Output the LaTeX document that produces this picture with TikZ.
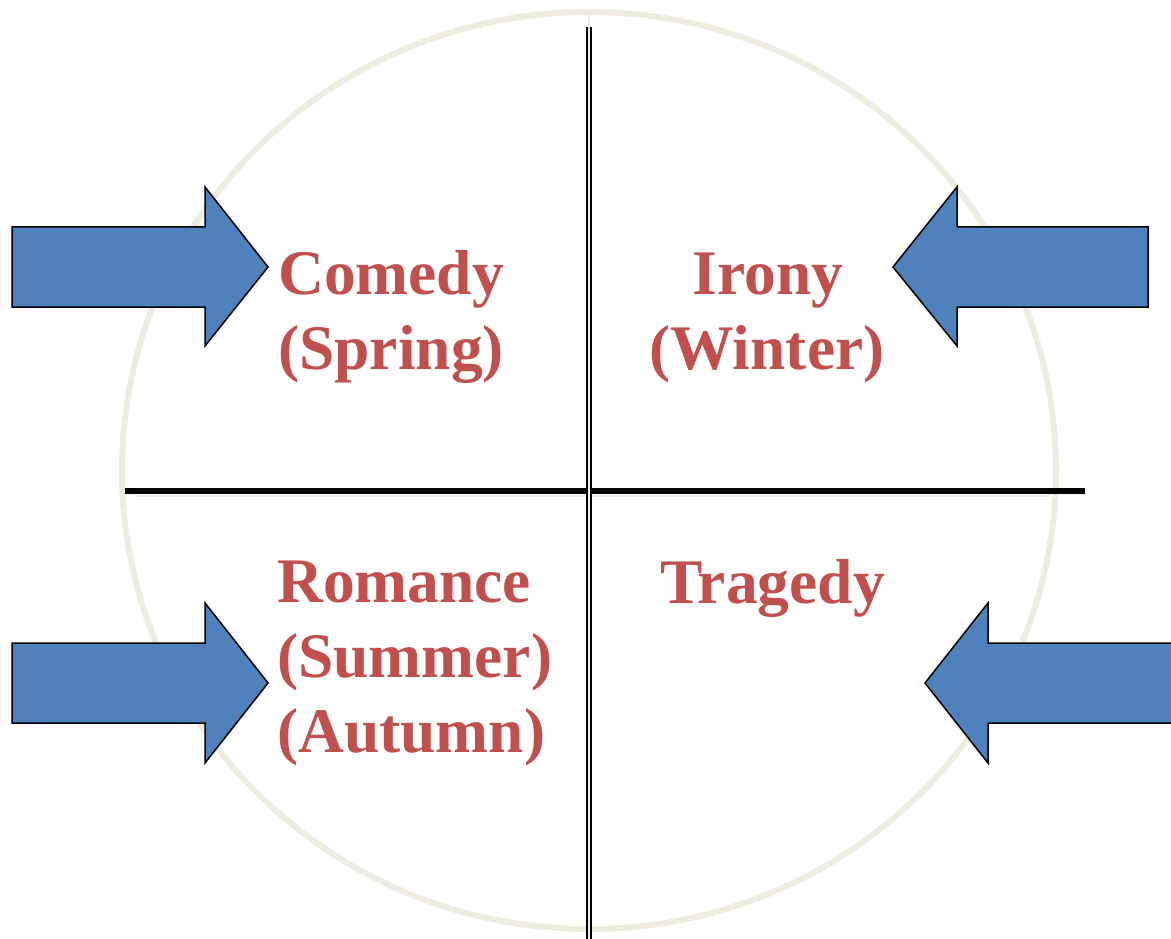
\documentclass[tikz,border=0pt]{standalone}
\usepackage{fontspec}
\setmainfont{Liberation Serif}
\definecolor{ringc}{HTML}{EEECE1}
\definecolor{arrowc}{HTML}{4F81BD}
\definecolor{textc}{HTML}{C0504D}
\begin{document}
\begin{tikzpicture}[x=1pt,y=-1pt,
  ring/.style={draw=ringc,line width=6pt},
  axis/.style={draw=black,line width=5.5pt},
  vaxis/.style={draw=black,line width=2pt,double=ringc,double distance=2pt},
  blockarrow/.style={fill=arrowc,draw=black,line width=1.5pt,line join=miter},
  lbl/.style={text=textc,font=\fontsize{63.5}{74}\selectfont\bfseries,inner sep=0pt}]
\useasboundingbox (0,0) rectangle (1171,939);
\clip (0,0) rectangle (1171,939);
% circle
\draw[ring] (589,470.5) ellipse [x radius=467, y radius=458.5];
% horizontal divider
\draw[draw=ringc,line width=1.5pt] (135,496) -- (1050,496);
\coordinate (hl) at (125,491);
\coordinate (hr) at (1085,491);
\draw[axis] (hl) -- (hr);
% vertical divider
\draw[draw=ringc,line width=2pt] (589,15) -- (589,28);
\coordinate (vt) at (589,27);
\coordinate (vb) at (589,945);
\draw[vaxis] (vt) -- (vb);
% arrows
\draw[blockarrow] (12,227) -- (205,227) -- (205,187) -- (268,267) -- (205,346) -- (205,307) -- (12,307) -- cycle;
\draw[blockarrow] (1148,227) -- (957,227) -- (957,187) -- (893,267) -- (957,346) -- (957,307) -- (1148,307) -- cycle;
\draw[blockarrow] (12,643) -- (205,643) -- (205,603) -- (268,683) -- (205,763) -- (205,723) -- (12,723) -- cycle;
\draw[blockarrow] (1180,643) -- (988,643) -- (988,603) -- (925,683) -- (988,763) -- (988,723) -- (1180,723) -- cycle;
% labels
\node[lbl,anchor=base west] (comedy) at (278,294) {Comedy};
\node[lbl,anchor=base west] (spring) at (278,369) {(Spring)};
\node[lbl,anchor=base] (irony) at (768,294) {Irony};
\node[lbl,anchor=base] (winter) at (767,369) {(Winter)};
\node[lbl,anchor=base west] (romance) at (277,602) {Romance};
\node[lbl,anchor=base west] (summer) at (277,677) {(Summer)};
\node[lbl,anchor=base west] (autumn) at (277,752) {(Autumn)};
\node[lbl,anchor=base west] (tragedy) at (660,603) {Tragedy};
\end{tikzpicture}
\end{document}
